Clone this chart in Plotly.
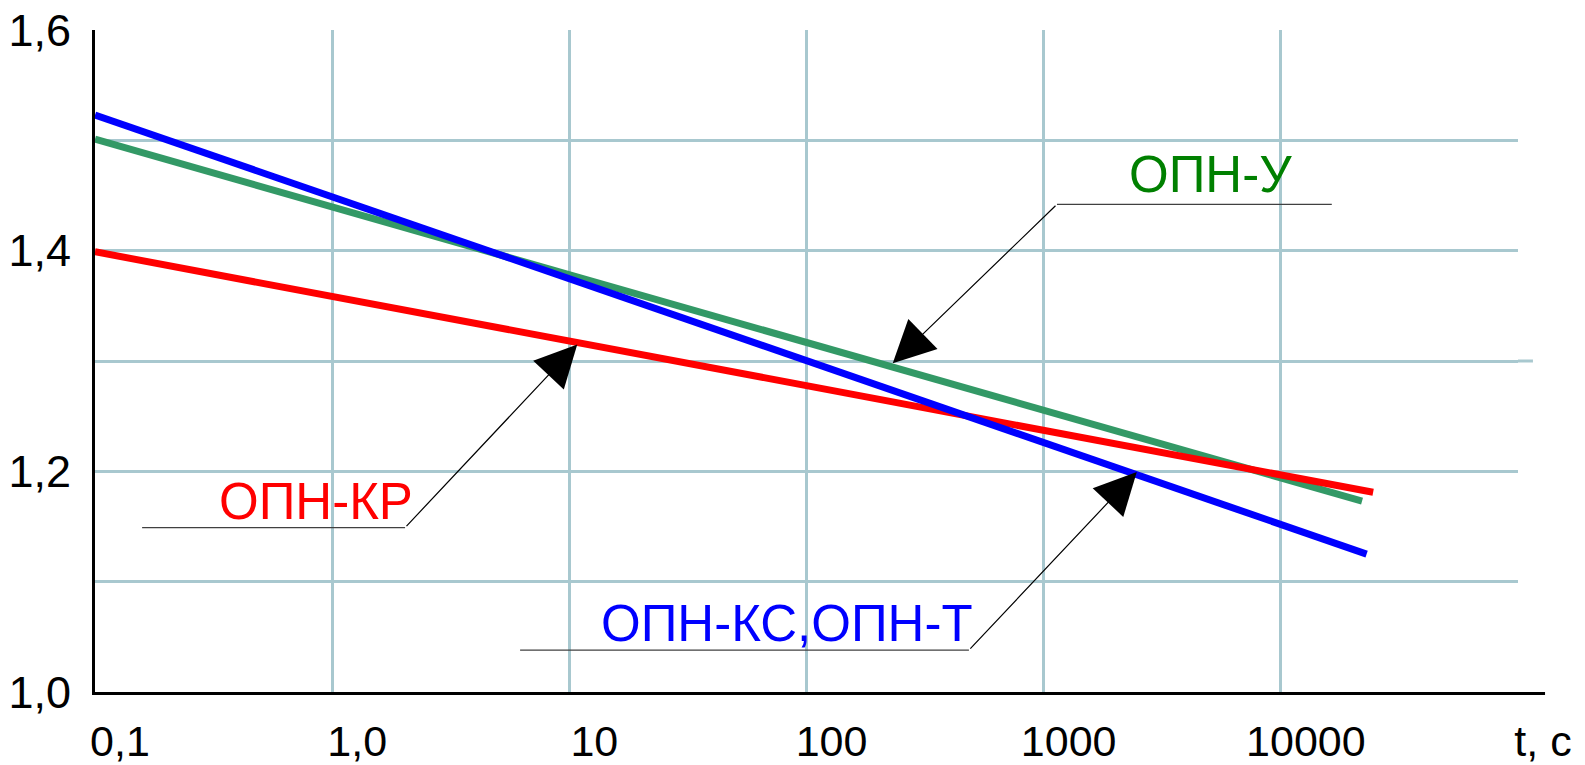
import math
import plotly.graph_objects as go

# ---- data ----
t_kc = [0.1, 23000]          # ОПН-КС, ОПН-Т
u_kc = [1.523, 1.125]
t_u = [0.1, 22000]           # ОПН-У
u_u = [1.501, 1.173]
t_kr = [0.1, 24500]          # ОПН-КР
u_kr = [1.399, 1.181]

x_tickvals = [0.1, 1, 10, 100, 1000, 10000, 100000]
x_ticktext = ["0,1", "1,0", "10", "100", "1000", "10000", "t, с"]
y_tickvals = [1.0, 1.1, 1.2, 1.3, 1.4, 1.5, 1.6]
y_ticktext = ["1,0", "", "1,2", "", "1,4", "", "1,6"]

labels = ["ОПН-У", "ОПН-КР", "ОПН-КС,ОПН-Т"]
label_colors = ["#008000", "#FF0000", "#0000FF"]
label_t = [5070, 0.855, 82.6]
label_u = [1.469, 1.173, 1.0625]
leader_t0 = [16400, 0.158, 6.2]
leader_t1 = [1138, 2.03, 484]
leader_u = [1.442, 1.149, 1.038]
arrow_t = [231, 10.8, 2470]
arrow_u = [1.298, 1.315, 1.1994]

FONT = "Liberation Sans, Arial, sans-serif"
GRID = "#A8C8CF"

fig = go.Figure()

# leader lines (horizontal underlines)
for i in range(3):
    fig.add_trace(go.Scatter(
        x=[leader_t0[i], leader_t1[i]], y=[leader_u[i], leader_u[i]],
        mode="lines", line=dict(color="#404040", width=1.3),
        hoverinfo="skip", showlegend=False))

fig.add_trace(go.Scatter(x=t_u, y=u_u, mode="lines",
                         line=dict(color="#339966", width=7), showlegend=False))
fig.add_trace(go.Scatter(x=t_kr, y=u_kr, mode="lines",
                         line=dict(color="#FF0000", width=7), showlegend=False))
fig.add_trace(go.Scatter(x=t_kc, y=u_kc, mode="lines",
                         line=dict(color="#0000FF", width=7), showlegend=False))

annotations = []
for i in range(3):
    annotations.append(dict(
        x=math.log10(label_t[i]), y=label_u[i], xref="x", yref="y",
        text=labels[i], showarrow=False,
        font=dict(family=FONT, size=51, color=label_colors[i])))
    annotations.append(dict(
        x=math.log10(arrow_t[i]), y=arrow_u[i], xref="x", yref="y",
        ax=math.log10(leader_t1[i]), ay=leader_u[i], axref="x", ayref="y",
        text="", showarrow=True, arrowhead=2, arrowsize=7, arrowwidth=1.2,
        arrowcolor="black", standoff=0))

fig.update_layout(
    width=1585, height=765,
    margin=dict(l=95, r=67, t=30, b=73),
    paper_bgcolor="white", plot_bgcolor="white",
    annotations=annotations,
    shapes=[
        dict(type="line", xref="paper", yref="paper", x0=0.99, x1=1.019,
             y0=-0.0023, y1=-0.0023, line=dict(color="black", width=3)),
        dict(type="line", xref="paper", yref="y", x0=1, x1=1.0105, y0=1.3, y1=1.3,
             line=dict(color=GRID, width=3)),
    ],
)
fig.update_xaxes(
    type="log", range=[-1, 5], automargin=False,
    tickvals=x_tickvals, ticktext=x_ticktext,
    showgrid=True, gridcolor=GRID, gridwidth=3,
    showline=True, linecolor="black", linewidth=3,
    zeroline=False, ticks="",
    tickfont=dict(family=FONT, size=43, color="black"),
    ticklabelshift=25, ticklabelstandoff=9,
)
fig.update_yaxes(
    range=[1.0, 1.6], automargin=False,
    tickvals=y_tickvals, ticktext=y_ticktext,
    showgrid=True, gridcolor=GRID, gridwidth=3,
    showline=True, linecolor="black", linewidth=3,
    zeroline=False, ticks="",
    tickfont=dict(family=FONT, size=45, color="black"),
    ticklabelstandoff=12,
)

fig.write_html("out.html")
